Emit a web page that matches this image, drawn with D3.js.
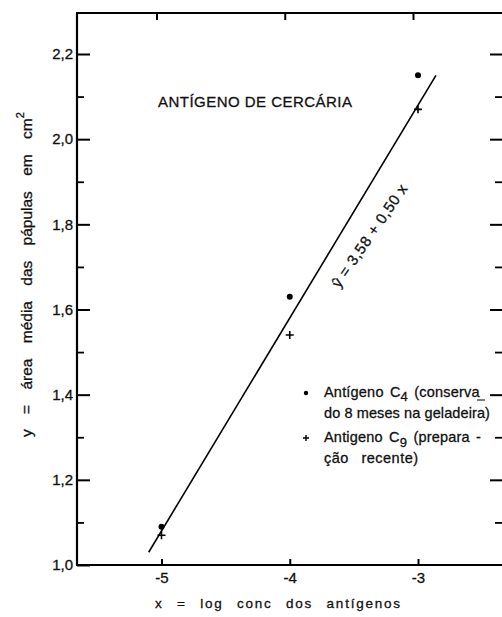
<!DOCTYPE html>
<html>
<head>
<meta charset="utf-8">
<script src="https://cdn.jsdelivr.net/npm/d3@7"></script>
<style>
  html, body { margin: 0; padding: 0; background: #fff; }
  svg { display: block; }
  text { font-family: "Liberation Sans", Arial, sans-serif; fill: #111; stroke: #111; stroke-width: 0.3px; }
</style>
</head>
<body>
<div id="chart"></div>
<script>
// ---------------- data ----------------
const xTickValues = [-5, -4, -3];
const xTickLabels = ["-5", "-4", "-3"];
const yMajorValues = [1.0, 1.2, 1.4, 1.6, 1.8, 2.0, 2.2];
const yMajorLabels = ["1,0", "1,2", "1,4", "1,6", "1,8", "2,0", "2,2"];
const yMinorValues = [1.1, 1.3, 1.5, 1.7, 1.9, 2.1];
const rightMajorValues = [1.2, 1.4, 1.6, 1.8, 2.0, 2.2];
const rightMinorValues = [1.1, 1.3, 1.5, 1.7, 1.9, 2.1];

const logConc = [-5, -4, -3];
const antigenC4 = [1.09, 1.63, 2.15];   // dots
const antigenC9 = [1.07, 1.54, 2.07];   // crosses

const regIntercept = 3.58;
const regSlope = 0.50;
const regXRange = [-5.10, -2.86];

const titleText = "ANTÍGENO DE CERCÁRIA";
const xAxisTitle = "x = log conc dos antígenos";
const yAxisTitle = "y = área média das pápulas em cm";
const regLabel = "ŷ = 3,58 + 0,50 x";

// ---------------- layout ----------------
const W = 502, H = 617;
const frame = { left: 77, top: 13, bottom: 565, right: 510 };

const xScale = d3.scaleLinear().domain([-5, -3]).range([161.5, 418]);
const yScale = d3.scaleLinear().domain([1.0, 2.2]).range([565, 54]);

const svg = d3.select("#chart").append("svg")
  .attr("width", W).attr("height", H);

svg.append("rect").attr("width", W).attr("height", H).attr("fill", "#fff");

// frame lines
const g = svg.append("g");
g.append("line").attr("x1", frame.left).attr("x2", frame.left)
  .attr("y1", frame.top).attr("y2", frame.bottom)
  .attr("stroke", "#000").attr("stroke-width", 2.2);
g.append("line").attr("x1", frame.left - 1).attr("x2", frame.right)
  .attr("y1", frame.bottom).attr("y2", frame.bottom)
  .attr("stroke", "#000").attr("stroke-width", 2);
g.append("line").attr("x1", frame.left - 1).attr("x2", frame.right)
  .attr("y1", frame.top).attr("y2", frame.top)
  .attr("stroke", "#000").attr("stroke-width", 1.8);

// left axis (major with labels)
const leftMajor = d3.axisLeft(yScale).tickValues(yMajorValues)
  .tickSize(-13).tickSizeOuter(0).tickPadding(4)
  .tickFormat((d, i) => yMajorLabels[i]);
const la = svg.append("g").attr("transform", `translate(${frame.left},0)`).call(leftMajor);
la.select(".domain").remove();
la.selectAll(".tick line").attr("stroke", "#000").attr("stroke-width", 2);
la.selectAll(".tick text").style("font-size", "15px").attr("fill", "#111");

const leftMinor = d3.axisLeft(yScale).tickValues(yMinorValues)
  .tickSize(-7).tickSizeOuter(0).tickFormat("");
const lm = svg.append("g").attr("transform", `translate(${frame.left},0)`).call(leftMinor);
lm.select(".domain").remove();
lm.selectAll(".tick line").attr("stroke", "#000").attr("stroke-width", 1.8);

// right axis ticks (axis line itself lies beyond the picture)
const rightMajor = d3.axisRight(yScale).tickValues(rightMajorValues)
  .tickSize(-13).tickSizeOuter(0).tickFormat("");
const ra = svg.append("g").attr("transform", `translate(503,0)`).call(rightMajor);
ra.select(".domain").remove();
ra.selectAll(".tick line").attr("stroke", "#000").attr("stroke-width", 2);
const rightMinor = d3.axisRight(yScale).tickValues(rightMinorValues)
  .tickSize(-8).tickSizeOuter(0).tickFormat("");
const rm = svg.append("g").attr("transform", `translate(503,0)`).call(rightMinor);
rm.select(".domain").remove();
rm.selectAll(".tick line").attr("stroke", "#000").attr("stroke-width", 1.8);

// bottom axis
const bottomAxis = d3.axisBottom(xScale).tickValues(xTickValues)
  .tickSize(-6).tickSizeOuter(0).tickPadding(7)
  .tickFormat((d, i) => xTickLabels[i]);
const ba = svg.append("g").attr("transform", `translate(0,${frame.bottom})`).call(bottomAxis);
ba.select(".domain").remove();
ba.selectAll(".tick line").attr("stroke", "#000").attr("stroke-width", 2);
ba.selectAll(".tick text").style("font-size", "15px").attr("fill", "#111");

// top axis ticks
const topAxis = d3.axisTop(xScale).tickValues(xTickValues)
  .tickSize(-7).tickSizeOuter(0).tickFormat("");
const ta = svg.append("g").attr("transform", `translate(-5,${frame.top})`).call(topAxis);
ta.select(".domain").remove();
ta.selectAll(".tick line").attr("stroke", "#000").attr("stroke-width", 2);

// regression line
const regLine = d3.line().x(d => xScale(d)).y(d => yScale(regIntercept + regSlope * d));
svg.append("path").datum(regXRange)
  .attr("d", regLine).attr("fill", "none")
  .attr("stroke", "#000").attr("stroke-width", 1.6);

// points C4 (dots)
svg.append("g").selectAll("circle").data(logConc).join("circle")
  .attr("cx", d => xScale(d)).attr("cy", (d, i) => yScale(antigenC4[i]))
  .attr("r", 3).attr("fill", "#000");

// points C9 (crosses)
svg.append("g").selectAll("path").data(logConc).join("path")
  .attr("transform", (d, i) => `translate(${xScale(d)},${yScale(antigenC9[i])})`)
  .attr("d", "M-4,0H4M0,-4V4")
  .attr("stroke", "#000").attr("stroke-width", 1.6).attr("fill", "none");

// title
svg.append("text").attr("x", 158).attr("y", 107)
  .attr("textLength", 194).attr("lengthAdjust", "spacing")
  .style("font-size", "15px").text(titleText);

// regression label
const lx = xScale(-3.37), ly = yScale(1.772);
const rot = -Math.atan((yScale(regIntercept + regSlope * -5) - yScale(regIntercept + regSlope * -3)) / (xScale(-3) - xScale(-5))) * 180 / Math.PI + 3.5;
svg.append("text")
  .attr("transform", `translate(${lx},${ly}) rotate(${rot})`)
  .attr("text-anchor", "middle").attr("dominant-baseline", "middle")
  .style("font-size", "15px").style("letter-spacing", "0.6px")
  .text(regLabel);

// axis titles
svg.append("text").attr("x", 155).attr("y", 608)
  .attr("textLength", 245).attr("lengthAdjust", "spacing")
  .style("font-size", "13.5px").style("word-spacing", "8px")
  .text(xAxisTitle);

const yt = svg.append("text")
  .attr("transform", `translate(32,437) rotate(-90)`)
  .style("font-size", "15.5px").style("word-spacing", "11px");
yt.append("tspan").text(yAxisTitle);
yt.append("tspan").attr("dy", -8).style("font-size", "11px").text("2");

// legend
const lf = "14.5px";
const legend = svg.append("g");
legend.append("circle").attr("cx", 306).attr("cy", 393).attr("r", 2.2).attr("fill", "#000");
const l1 = legend.append("text").attr("x", 324).attr("y", 397).style("font-size", lf).style("letter-spacing", "0.2px").style("word-spacing", "2px");
l1.append("tspan").text("Antígeno C");
l1.append("tspan").attr("dy", 4).style("font-size", "13px").text("4");
l1.append("tspan").attr("dy", -4).text(" (conserva");
legend.append("line").attr("x1", 477).attr("x2", 485).attr("y1", 400).attr("y2", 400).attr("stroke", "#000").attr("stroke-width", 1);
legend.append("text").attr("x", 324).attr("y", 418).style("font-size", lf).style("letter-spacing", "0.1px")
  .text("do 8  meses na geladeira)");

legend.append("path").attr("transform", "translate(306,438)").attr("d", "M-3,0H3M0,-3V3")
  .attr("stroke", "#000").attr("stroke-width", 1.4);
const l3 = legend.append("text").attr("x", 324).attr("y", 442).style("font-size", lf).style("letter-spacing", "0.2px").style("word-spacing", "2px");
l3.append("tspan").text("Antigeno C");
l3.append("tspan").attr("dy", 5).style("font-size", "13px").text("9");
l3.append("tspan").attr("dy", -5).text(" (prepara -");
legend.append("text").attr("x", 324).attr("y", 463).style("font-size", lf).style("letter-spacing", "0.5px").style("word-spacing", "8px")
  .text("ção recente)");
</script>
</body>
</html>
